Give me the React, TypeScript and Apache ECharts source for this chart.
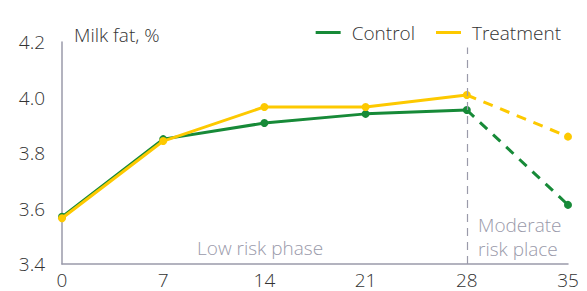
import React, { useEffect, useRef } from "react";
import * as echarts from "echarts";

const days = [0, 7, 14, 21, 28, 35];
const control = [3.57, 3.85, 3.908, 3.941, 3.955, 3.613];
const treatment = [3.565, 3.843, 3.966, 3.966, 4.009, 3.859];
const yTicks = [3.4, 3.6, 3.8, 4.0, 4.2];
const phaseLabels = ["Low risk phase", "Moderate\nrisk place"];

const GREEN = "#178a38";
const YELLOW = "#fdc900";
const GREY = "#9a9aaa";
const FONT = "Open Sans";
const FW = 300;
const FS = 19;

export default function App() {
  const ref = useRef<HTMLDivElement>(null);
  useEffect(() => {
    document.body.style.margin = "0";
    const chart = echarts.init(ref.current!, null, { renderer: "svg" });
    const solid = (arr: number[]) => days.slice(0, 5).map((d, i) => [d, arr[i]]);
    const dashed = (arr: number[]) => [
      { value: [days[4], arr[4]], symbol: "none" },
      { value: [days[5], arr[5]] },
    ];
    const mk = (name: string, color: string, data: any, dash: boolean) => ({
      name,
      type: "line",
      data,
      symbol: "circle",
      symbolSize: 8,
      itemStyle: { color },
      lineStyle: { color, width: 3, type: dash ? [10, 8] : "solid" },
      z: name === "Treatment" ? 3 : 2,
    });
    chart.setOption({
      animation: false,
      textStyle: { fontFamily: FONT },
      grid: { left: 62, right: 19, top: 42, bottom: 27 },
      legend: {
        data: ["Control", "Treatment"],
        right: 21,
        top: 18,
        icon: "rect",
        itemWidth: 25,
        itemHeight: 3,
        itemGap: 21,
        textStyle: { fontSize: FS, color: "#333", fontFamily: FONT, fontWeight: FW, padding: [0, 0, 0, 6] },
      },
      xAxis: {
        type: "value",
        min: 0,
        max: 35,
        interval: 7,
        axisLine: { lineStyle: { color: GREY, width: 1.5 } },
        axisTick: { show: false },
        splitLine: { show: false },
        axisLabel: { fontSize: FS, color: "#333", margin: 6, fontFamily: FONT, fontWeight: FW },
      },
      yAxis: {
        type: "value",
        min: yTicks[0],
        max: yTicks[yTicks.length - 1],
        interval: 0.2,
        axisLine: { show: true, lineStyle: { color: GREY, width: 1.5 } },
        axisTick: { show: false },
        splitLine: { show: false },
        axisLabel: {
          fontSize: FS,
          color: "#333",
          margin: 17,
          fontFamily: FONT,
          fontWeight: FW,
          formatter: (v: number) => v.toFixed(1),
        },
      },
      series: [
        {
          ...mk("Control", GREEN, solid(control), false),
          markLine: {
            silent: true,
            symbol: "none",
            label: { show: false },
            lineStyle: { color: GREY, type: [8, 6], width: 1.2 },
            data: [[{ coord: [28, 3.4] }, { coord: [28, 4.18] }]],
          },
        },
        mk("Treatment", YELLOW, solid(treatment), false),
        mk("Control2", GREEN, dashed(control), true),
        mk("Treatment2", YELLOW, dashed(treatment), true),
      ],
      graphic: [
        {
          type: "text",
          left: 74,
          top: 25,
          style: { text: "Milk fat, %", fontSize: FS, fill: "#333", fontFamily: FONT, fontWeight: FW },
        },
        {
          type: "text",
          left: 197,
          top: 238,
          style: { text: phaseLabels[0], fontSize: FS, fill: GREY, fontFamily: FONT, fontWeight: FW },
        },
        {
          type: "text",
          left: 478,
          top: 213,
          style: { text: phaseLabels[1], fontSize: FS, fill: GREY, lineHeight: 24, fontFamily: FONT, fontWeight: FW },
        },
      ],
    });
    return () => chart.dispose();
  }, []);
  return <div ref={ref} style={{ width: 587, height: 291 }} />;
}
